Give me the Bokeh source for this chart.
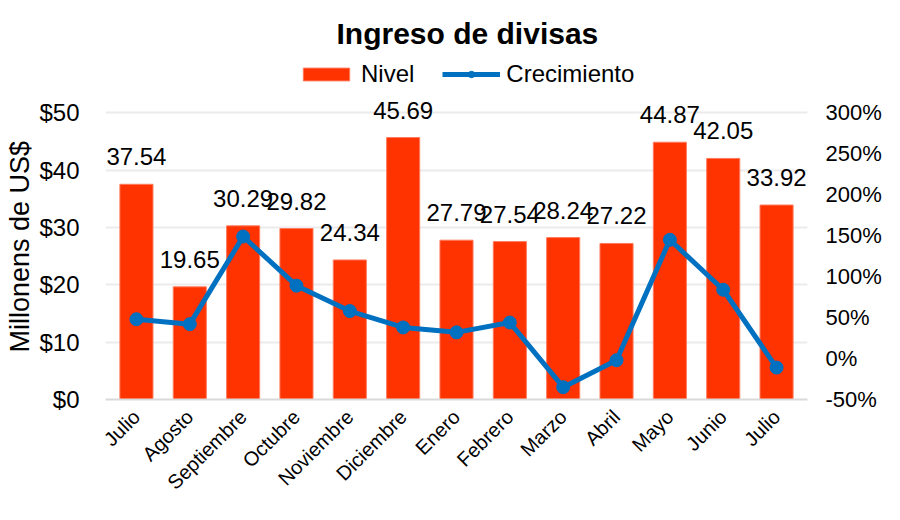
import math
from bokeh.plotting import figure
from bokeh.core.properties import value
from bokeh.models import (ColumnDataSource, Range1d, LinearAxis, FixedTicker, Title,
                          PrintfTickFormatter, LabelSet, Legend, LegendItem)
from bokeh.embed import file_html
from bokeh.resources import INLINE

months = ["Julio", "Agosto", "Septiembre", "Octubre", "Noviembre", "Diciembre", "Enero",
          "Febrero", "Marzo", "Abril", "Mayo", "Junio", "Julio"]
nivel = [37.54, 19.65, 30.29, 29.82, 24.34, 45.69, 27.79, 27.54, 28.24, 27.22, 44.87, 42.05, 33.92]
crecimiento = [48, 42, 149, 89, 58, 38, 32, 44, -35, -2, 145, 84, -11]
left_ticks = [0, 10, 20, 30, 40, 50]
right_ticks = [-50, 0, 50, 100, 150, 200, 250, 300]

x = list(range(len(months)))
src = ColumnDataSource(dict(x=x, nivel=nivel, crec=crecimiento,
                            lbl=[f"{v:.2f}" for v in nivel]))

FONT = "Liberation Sans"
RED = "#FF3300"
BLUE = "#0070C0"

# left axis 0..50 maps to right axis -50..300 ; frame extends above $50 to hold labels + legend
Y_TOP = 61.05
PCT_PER_UNIT = (right_ticks[-1] - right_ticks[0]) / (left_ticks[-1] - left_ticks[0])

p = figure(width=884, height=504, output_backend="svg", toolbar_location=None,
           x_range=Range1d(-0.58, len(months) - 0.42), y_range=Range1d(0, Y_TOP),
           min_border_left=0, min_border_right=0, min_border_top=0, min_border_bottom=0)
p.outline_line_color = None
p.background_fill_color = "white"
p.border_fill_color = "white"

p.title.text = "Ingreso de divisas"
p.title.align = "left"
p.title.text_font = FONT
p.title.text_font_size = "30px"
p.title.text_font_style = "bold"
p.title.text_color = "black"
p.title.offset = 231
p.title.standoff = 0
p.title.padding = dict(left=0, right=0, top=14, bottom=0)

p.extra_y_ranges = {"pct": Range1d(right_ticks[0], right_ticks[0] + Y_TOP * PCT_PER_UNIT)}

bars = p.vbar(x="x", top="nivel", width=0.62, source=src, fill_color=RED,
              line_color="#ff7a5c", line_width=1)
line = p.line(x="x", y="crec", source=src, y_range_name="pct", line_color=BLUE, line_width=5)
dots = p.scatter(x="x", y="crec", source=src, y_range_name="pct", size=13,
                 fill_color=BLUE, line_color=BLUE)

labels = LabelSet(x="x", y="nivel", text="lbl", source=src, text_align="center",
                  text_baseline="alphabetic", y_offset=19, text_font=value(FONT),
                  text_font_size="24px", text_color="black")
p.add_layout(labels)

# axes
p.xaxis.ticker = FixedTicker(ticks=x)
p.xaxis.major_label_overrides = {i: m for i, m in enumerate(months)}
p.xaxis.major_label_orientation = math.pi / 4
p.xaxis.major_label_text_font = FONT
p.xaxis.major_label_text_font_size = "20px"
p.xaxis.major_label_text_color = "black"
p.xaxis.axis_line_color = "#d9d9d9"
p.xaxis.axis_line_width = 2
p.xaxis.major_tick_line_color = None
p.xaxis.minor_tick_line_color = None
p.xaxis.major_tick_out = 0
p.xaxis.major_tick_in = 0
p.xaxis.minor_tick_out = 0
p.xaxis.major_label_standoff = 14

p.yaxis.ticker = FixedTicker(ticks=left_ticks)
p.yaxis.formatter = PrintfTickFormatter(format="$%d")
p.yaxis.major_label_text_font = FONT
p.yaxis.major_label_text_font_size = "24px"
p.yaxis.major_label_text_color = "black"
p.yaxis.axis_line_color = None
p.yaxis.major_tick_line_color = None
p.yaxis.minor_tick_line_color = None
p.yaxis.major_tick_out = 0
p.yaxis.major_tick_in = 0
p.yaxis.minor_tick_out = 0
p.yaxis.major_label_standoff = 26

ytitle = Title(text="Millonens de US$", align="left", offset=47, standoff=4,
               text_font=FONT, text_font_size="27px", text_font_style="normal",
               text_color="black")
p.add_layout(ytitle, "left")

raxis = LinearAxis(y_range_name="pct", ticker=FixedTicker(ticks=right_ticks),
                   formatter=PrintfTickFormatter(format="%d%%"))
raxis.major_label_text_font = FONT
raxis.major_label_text_font_size = "22px"
raxis.major_label_text_color = "black"
raxis.axis_line_color = None
raxis.major_tick_line_color = None
raxis.minor_tick_line_color = None
raxis.major_tick_out = 0
raxis.major_tick_in = 0
raxis.minor_tick_out = 0
raxis.major_label_standoff = 18
p.add_layout(raxis, "right")

p.xgrid.grid_line_color = None
p.ygrid.grid_line_color = "#ebebeb"
p.ygrid.grid_line_width = 2

legend = Legend(items=[LegendItem(label="Nivel", renderers=[bars]),
                       LegendItem(label="Crecimiento", renderers=[line, dots])],
                orientation="horizontal", location=(192, 311),
                glyph_width=58, glyph_height=16, label_standoff=6, spacing=28,
                padding=0, margin=0, border_line_color=None, background_fill_alpha=0,
                label_text_font=FONT, label_text_font_size="24px", label_text_color="black")
p.add_layout(legend, "center")

open("out.html", "w").write(file_html(p, INLINE))
